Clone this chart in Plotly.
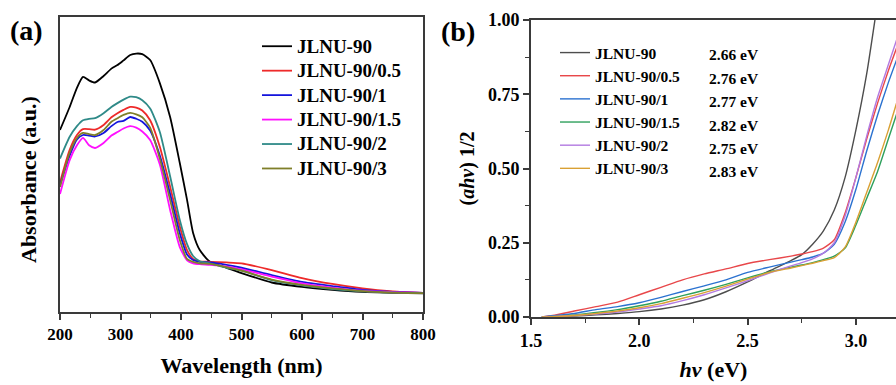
import plotly.graph_objects as go

# ---------------- Panel (a): UV-Vis absorbance ----------------
wavelength = [200, 216, 228, 238, 248, 258, 272, 285, 295, 305, 316, 326, 336, 349,
              365, 382, 398, 410, 420, 431, 448, 475, 500, 550, 600, 650, 700, 750, 800]

abs_jlnu90 = [0.617, 0.695, 0.760, 0.797, 0.785, 0.778, 0.800, 0.825, 0.837, 0.853, 0.871, 0.876, 0.874, 0.854,
              0.776, 0.661, 0.505, 0.380, 0.268, 0.210, 0.170, 0.150, 0.132, 0.100, 0.085, 0.075, 0.068, 0.065, 0.063]
abs_05 = [0.440, 0.550, 0.600, 0.620, 0.620, 0.618, 0.634, 0.660, 0.674, 0.685, 0.695, 0.693, 0.683, 0.650,
          0.560, 0.425, 0.290, 0.210, 0.180, 0.172, 0.170, 0.168, 0.165, 0.142, 0.115, 0.095, 0.080, 0.070, 0.065]
abs_1 = [0.430, 0.530, 0.585, 0.600, 0.598, 0.595, 0.607, 0.630, 0.644, 0.648, 0.661, 0.655, 0.645, 0.615,
         0.530, 0.400, 0.267, 0.195, 0.176, 0.170, 0.168, 0.160, 0.150, 0.125, 0.102, 0.088, 0.075, 0.068, 0.065]
abs_15 = [0.400, 0.515, 0.565, 0.590, 0.565, 0.556, 0.573, 0.598, 0.610, 0.622, 0.630, 0.625, 0.612, 0.583,
          0.500, 0.346, 0.220, 0.175, 0.165, 0.162, 0.160, 0.155, 0.145, 0.120, 0.097, 0.083, 0.072, 0.067, 0.065]
abs_2 = [0.520, 0.594, 0.630, 0.650, 0.655, 0.657, 0.674, 0.695, 0.708, 0.720, 0.730, 0.728, 0.718, 0.690,
         0.610, 0.460, 0.312, 0.230, 0.190, 0.172, 0.165, 0.150, 0.140, 0.108, 0.090, 0.078, 0.070, 0.066, 0.064]
abs_3 = [0.424, 0.540, 0.590, 0.607, 0.603, 0.600, 0.617, 0.645, 0.657, 0.668, 0.675, 0.670, 0.660, 0.625,
         0.520, 0.380, 0.244, 0.180, 0.170, 0.165, 0.163, 0.152, 0.140, 0.110, 0.092, 0.080, 0.071, 0.066, 0.064]

names_a = ["JLNU-90", "JLNU-90/0.5", "JLNU-90/1", "JLNU-90/1.5", "JLNU-90/2", "JLNU-90/3"]
series_a = [abs_jlnu90, abs_05, abs_1, abs_15, abs_2, abs_3]
colors_a = ["#000000", "#ee2a2a", "#1414dc", "#ff10ff", "#2f8a88", "#7f7f2a"]

# ---------------- Panel (b): Tauc plot ----------------
hv = [1.55, 1.6, 1.7, 1.8, 1.9, 2.0, 2.1, 2.2, 2.3, 2.4, 2.5, 2.6, 2.7, 2.75, 2.8, 2.85,
      2.9, 2.95, 3.0, 3.05, 3.1, 3.15, 3.2]

tauc_jlnu90 = [0.0, 0.001, 0.003, 0.007, 0.012, 0.018, 0.027, 0.040, 0.058, 0.085, 0.118, 0.155, 0.190, 0.210,
               0.245, 0.290, 0.360, 0.470, 0.630, 0.820, 1.060, 1.300, 1.500]
tauc_05 = [0.0, 0.005, 0.020, 0.035, 0.050, 0.075, 0.100, 0.125, 0.145, 0.162, 0.180, 0.193, 0.205, 0.212,
           0.220, 0.232, 0.260, 0.350, 0.470, 0.600, 0.720, 0.830, 0.930]
tauc_1 = [0.0, 0.004, 0.012, 0.025, 0.035, 0.048, 0.066, 0.086, 0.105, 0.125, 0.150, 0.168, 0.185, 0.193,
          0.202, 0.215, 0.245, 0.320, 0.430, 0.560, 0.680, 0.790, 0.890]
tauc_15 = [0.0, 0.002, 0.007, 0.015, 0.025, 0.038, 0.053, 0.072, 0.090, 0.110, 0.132, 0.152, 0.168, 0.175,
           0.183, 0.193, 0.205, 0.232, 0.310, 0.400, 0.490, 0.600, 0.710]
tauc_2 = [0.0, 0.002, 0.005, 0.010, 0.017, 0.027, 0.038, 0.055, 0.075, 0.098, 0.122, 0.148, 0.172, 0.183,
          0.196, 0.215, 0.250, 0.340, 0.470, 0.610, 0.740, 0.850, 0.960]
tauc_3 = [0.0, 0.001, 0.005, 0.012, 0.020, 0.031, 0.045, 0.063, 0.082, 0.104, 0.128, 0.150, 0.165, 0.173,
          0.181, 0.190, 0.200, 0.235, 0.320, 0.420, 0.520, 0.630, 0.750]

names_b = ["JLNU-90", "JLNU-90/0.5", "JLNU-90/1", "JLNU-90/1.5", "JLNU-90/2", "JLNU-90/3"]
band_gaps = ["2.66 eV", "2.76 eV", "2.77 eV", "2.82 eV", "2.75 eV", "2.83 eV"]
series_b = [tauc_jlnu90, tauc_05, tauc_1, tauc_15, tauc_2, tauc_3]
colors_b = ["#4d4d4d", "#e8474a", "#2b72d0", "#2ea05c", "#b27ae0", "#d9a034"]

FONT = "Liberation Serif"
W, H = 896, 385

fig = go.Figure()

for name, ys, c in zip(names_a, series_a, colors_a):
    fig.add_trace(go.Scatter(x=wavelength, y=ys,
                             name=f"<span style='font-size:19px'>{name}</span>", mode="lines",
                             line=dict(color=c, width=1.8, shape="spline", smoothing=0.6),
                             xaxis="x", yaxis="y", legend="legend"))

for name, ys, c in zip(names_b, series_b, colors_b):
    fig.add_trace(go.Scatter(x=hv, y=ys, name=name, mode="lines",
                             line=dict(color=c, width=1.4, shape="spline", smoothing=0.6),
                             xaxis="x2", yaxis="y2", legend="legend2"))

def px_x(p):
    return p / W

def px_y(p):
    return 1 - p / H

axis_line = "#3a3a3a"

fig.update_layout(
    width=W, height=H,
    margin=dict(l=0, r=0, t=0, b=0, autoexpand=False),
    paper_bgcolor="white", plot_bgcolor="white",
    font=dict(family=FONT, color="black", weight="bold"),
    xaxis=dict(domain=[px_x(60), px_x(423)], range=[200, 800], anchor="y", automargin=False,
               tickvals=[200, 300, 400, 500, 600, 700, 800],
               ticks="outside", ticklen=6, tickwidth=1.5, tickcolor=axis_line,
               minor=dict(dtick=50, ticks="outside", ticklen=4, tickwidth=1.2, tickcolor=axis_line),
               showline=True, linewidth=2, linecolor=axis_line, mirror=True,
               showgrid=False, zeroline=False,
               tickfont=dict(size=17, family=FONT, weight="bold"),
               title=dict(text="Wavelength (nm)", font=dict(size=22, family=FONT, weight="bold"), standoff=14)),
    yaxis=dict(domain=[px_y(312), px_y(17)], range=[0, 1], anchor="x", automargin=False,
               showticklabels=False, ticks="",
               showline=True, linewidth=2, linecolor=axis_line, mirror=True,
               showgrid=False, zeroline=False),
    xaxis2=dict(domain=[px_x(531), 1.0], range=[1.5, 3.185], anchor="y2", automargin=False,
                tickvals=[1.5, 2.0, 2.5, 3.0], ticktext=["1.5", "2.0", "2.5", "3.0"],
                ticks="outside", ticklen=6, tickwidth=1.5, tickcolor=axis_line,
                minor=dict(dtick=0.25, ticks="outside", ticklen=4, tickwidth=1.2, tickcolor=axis_line),
                showline=True, linewidth=2, linecolor=axis_line, mirror=True,
                showgrid=False, zeroline=False,
                tickfont=dict(size=18, family=FONT, weight="bold"),
                title=dict(text="<i>hv</i> (eV)", font=dict(size=22, family=FONT, weight="bold"), standoff=12)),
    yaxis2=dict(domain=[px_y(317), px_y(20)], range=[0, 1], anchor="x2", automargin=False,
                tickvals=[0, 0.25, 0.5, 0.75, 1.0], ticktext=["0.00", "0.25", "0.50", "0.75", "1.00"],
                ticks="outside", ticklen=6, tickwidth=1.5, tickcolor=axis_line,
                minor=dict(dtick=0.125, ticks="outside", ticklen=4, tickwidth=1.2, tickcolor=axis_line),
                showline=True, linewidth=2, linecolor=axis_line, mirror=False,
                showgrid=False, zeroline=False,
                tickfont=dict(size=18, family=FONT, weight="bold"),
                title=dict(text="(<i>ahv</i>) 1/2", font=dict(size=20, family=FONT, weight="bold"), standoff=8)),
    legend=dict(x=px_x(257), y=px_y(29), xanchor="left", yanchor="top",
                bgcolor="rgba(0,0,0,0)", borderwidth=0,
                font=dict(size=16.5, family=FONT, weight="bold"), tracegroupgap=0),
    legend2=dict(x=px_x(555), y=px_y(36), xanchor="left", yanchor="top",
                 bgcolor="rgba(0,0,0,0)", borderwidth=0,
                 font=dict(size=15.5, family=FONT, weight="bold"), tracegroupgap=0),
    showlegend=True,
)

annotations = [
    dict(text="(a)", x=px_x(26), y=px_y(30), xref="paper", yref="paper", showarrow=False,
         xanchor="center", yanchor="middle", font=dict(size=28, family=FONT, weight="bold")),
    dict(text="(b)", x=px_x(458), y=px_y(31), xref="paper", yref="paper", showarrow=False,
         xanchor="center", yanchor="middle", font=dict(size=28, family=FONT, weight="bold")),
    dict(text="Absorbance (a.u.)", x=px_x(29), y=px_y(180), xref="paper", yref="paper", showarrow=False,
         textangle=-90, xanchor="center", yanchor="middle",
         font=dict(size=22, family=FONT, weight="bold")),
]
row_y = [55, 79, 102, 125, 148, 171]
for gap, yy in zip(band_gaps, row_y):
    annotations.append(dict(text=gap, x=px_x(707), y=px_y(yy), xref="paper", yref="paper",
                            xanchor="left", yanchor="middle", showarrow=False,
                            font=dict(size=15.5, family=FONT, weight="bold")))
fig.update_layout(annotations=annotations)

fig.write_html("out.html",
               config={"displayModeBar": False},
               post_script="document.body.style.margin='0px';document.body.style.overflow='hidden';")
